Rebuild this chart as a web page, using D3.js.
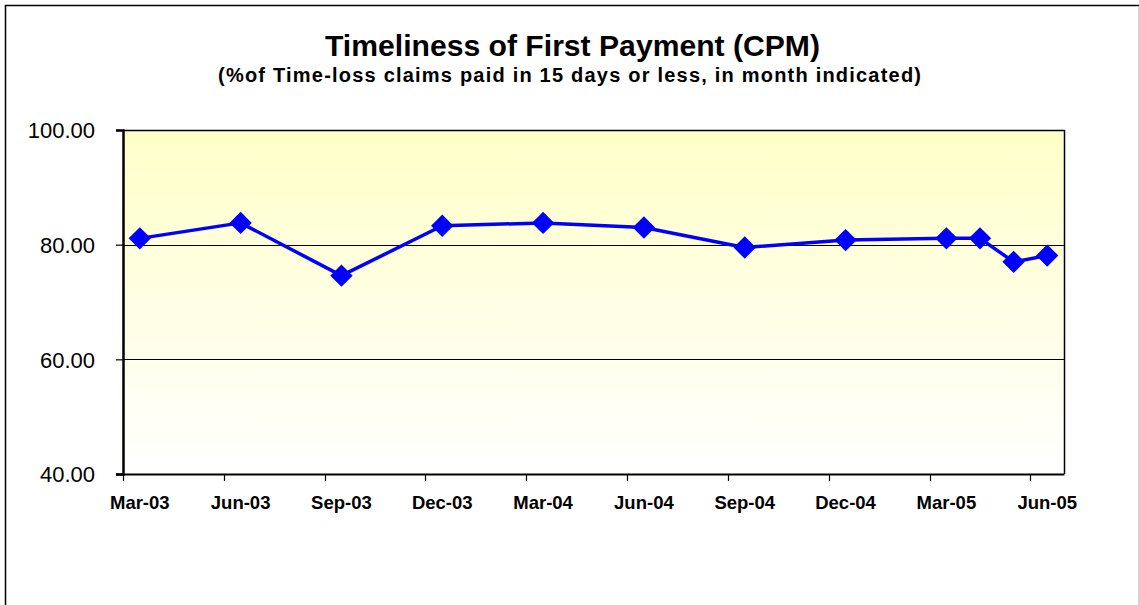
<!DOCTYPE html>
<html>
<head>
<meta charset="utf-8">
<script src="https://cdn.jsdelivr.net/npm/d3@7"></script>
<style>
  html, body { margin: 0; padding: 0; background: #ffffff; }
  svg { display: block; }
  text { font-family: Arial, "Liberation Sans", sans-serif; }
</style>
</head>
<body>
<svg id="chart" width="1139" height="605"></svg>
<script>
// ---- data ----
const titleText = "Timeliness of First Payment (CPM)";
const subtitleText = "(%of Time-loss claims paid in 15 days or less, in month indicated)";
const pointMonths = ["2003-03", "2003-06", "2003-09", "2003-12", "2004-03", "2004-06",
                     "2004-09", "2004-12", "2005-03", "2005-04", "2005-05", "2005-06"];
const pointValues = [81.1, 83.8, 74.6, 83.3, 83.8, 83.0, 79.5, 80.8, 81.1, 81.1, 77.0, 78.1];
const axisStartMonth = "2003-03";
const axisEndMonth = "2005-06";
const xTickMonths = ["2003-03", "2003-06", "2003-09", "2003-12", "2004-03", "2004-06",
                     "2004-09", "2004-12", "2005-03", "2005-06"];
const yTicks = [40, 60, 80, 100];
const yDomain = [40, 100];

// ---- layout ----
const svg = d3.select("#chart");
const plot = { left: 123, top: 130, right: 1064, bottom: 474 };

const parse = d3.timeParse("%Y-%m");
const fmtKey = d3.timeFormat("%Y-%m");
const fmtLabel = d3.timeFormat("%b-%y");

const allMonths = d3.timeMonth.range(parse(axisStartMonth), d3.timeMonth.offset(parse(axisEndMonth), 1)).map(fmtKey);

const x = d3.scaleBand().domain(allMonths).range([plot.left, plot.right]).padding(0);
const y = d3.scaleLinear().domain(yDomain).range([plot.bottom, plot.top]);

// outer frame
svg.append("line").attr("x1", 5).attr("x2", 1139).attr("y1", 5.5).attr("y2", 5.5)
  .attr("stroke", "#000").attr("stroke-width", 1.5);
svg.append("line").attr("x1", 5.5).attr("x2", 5.5).attr("y1", 5).attr("y2", 605)
  .attr("stroke", "#000").attr("stroke-width", 1.5);
svg.append("line").attr("x1", 1138.5).attr("x2", 1138.5).attr("y1", 6).attr("y2", 605)
  .attr("stroke", "#d0d0d0").attr("stroke-width", 1);

// gradient
const defs = svg.append("defs");
const grad = defs.append("linearGradient").attr("id", "bg").attr("x1", 0).attr("y1", 0).attr("x2", 0).attr("y2", 1);
grad.append("stop").attr("offset", "0%").attr("stop-color", "#ffffc8");
grad.append("stop").attr("offset", "100%").attr("stop-color", "#ffffff");

svg.append("rect")
  .attr("x", plot.left).attr("y", plot.top)
  .attr("width", plot.right - plot.left).attr("height", plot.bottom - plot.top)
  .attr("fill", "url(#bg)");

// gridlines
svg.append("g").selectAll("line")
  .data(yTicks.filter(v => v > yDomain[0] && v < yDomain[1]))
  .join("line")
  .attr("x1", plot.left).attr("x2", plot.right)
  .attr("y1", d => Math.round(y(d)) + 0.5).attr("y2", d => Math.round(y(d)) + 0.5)
  .attr("stroke", "#000").attr("stroke-width", 1);

// plot border (top, right)
svg.append("path")
  .attr("d", `M${plot.left},${plot.top + 0.5}H${plot.right + 0.5}V${plot.bottom}`)
  .attr("fill", "none").attr("stroke", "#000").attr("stroke-width", 1.5);

// y axis
const yAxis = d3.axisLeft(y).tickValues(yTicks).tickFormat(d3.format(".2f")).tickSize(7).tickPadding(21);
const gy = svg.append("g").attr("transform", `translate(${plot.left},0)`).call(yAxis);
gy.select(".domain").attr("stroke", "#000").attr("stroke-width", 2.5);
gy.selectAll(".tick line").attr("stroke", "#000").attr("stroke-width", 1.2);
gy.selectAll(".tick text")
  .attr("font-family", "Arial, 'Liberation Sans', sans-serif")
  .attr("font-size", 22).attr("fill", "#000").attr("dy", "0.35em");

// x axis: ticks at month band starts, labels at band centre
const gx = svg.append("g");
gx.append("line")
  .attr("x1", plot.left - 7).attr("x2", plot.right + 0.5)
  .attr("y1", plot.bottom + 0.5).attr("y2", plot.bottom + 0.5)
  .attr("stroke", "#000").attr("stroke-width", 2);
gx.selectAll(".xt").data(xTickMonths).join("line").attr("class", "xt")
  .attr("x1", d => Math.round(x(d)) + 0.5).attr("x2", d => Math.round(x(d)) + 0.5)
  .attr("y1", plot.bottom).attr("y2", plot.bottom + 7)
  .attr("stroke", "#000").attr("stroke-width", 1.2);
gx.selectAll(".xl").data(xTickMonths).join("text").attr("class", "xl")
  .attr("x", d => x(d) + x.bandwidth() / 2)
  .attr("y", 509)
  .attr("text-anchor", "middle")
  .attr("font-size", 18.5).attr("font-weight", "bold").attr("fill", "#000")
  .text(d => fmtLabel(parse(d)));

// line
const pts = pointMonths.map((m, i) => ({ m, v: pointValues[i] }));
const line = d3.line().x(d => x(d.m) + x.bandwidth() / 2).y(d => y(d.v));
svg.append("path").datum(pts)
  .attr("d", line)
  .attr("fill", "none").attr("stroke", "#0000ff").attr("stroke-width", 3.5)
  .attr("stroke-linejoin", "round");

// markers
const sym = d3.symbol().type(d3.symbolSquare).size(250);
svg.append("g").selectAll("path").data(pts).join("path")
  .attr("d", sym)
  .attr("transform", d => `translate(${x(d.m) + x.bandwidth() / 2},${y(d.v)}) rotate(45)`)
  .attr("fill", "#0000ff");

// titles
svg.append("text").attr("x", 572.5).attr("y", 56).attr("text-anchor", "middle")
  .attr("font-size", 30).attr("font-weight", "bold").attr("fill", "#000")
  .attr("textLength", 495).attr("lengthAdjust", "spacingAndGlyphs")
  .text(titleText);
svg.append("text").attr("x", 569.5).attr("y", 82).attr("text-anchor", "middle")
  .attr("font-size", 20).attr("font-weight", "bold").attr("fill", "#000")
  .attr("textLength", 703).attr("lengthAdjust", "spacing")
  .text(subtitleText);
</script>
</body>
</html>
